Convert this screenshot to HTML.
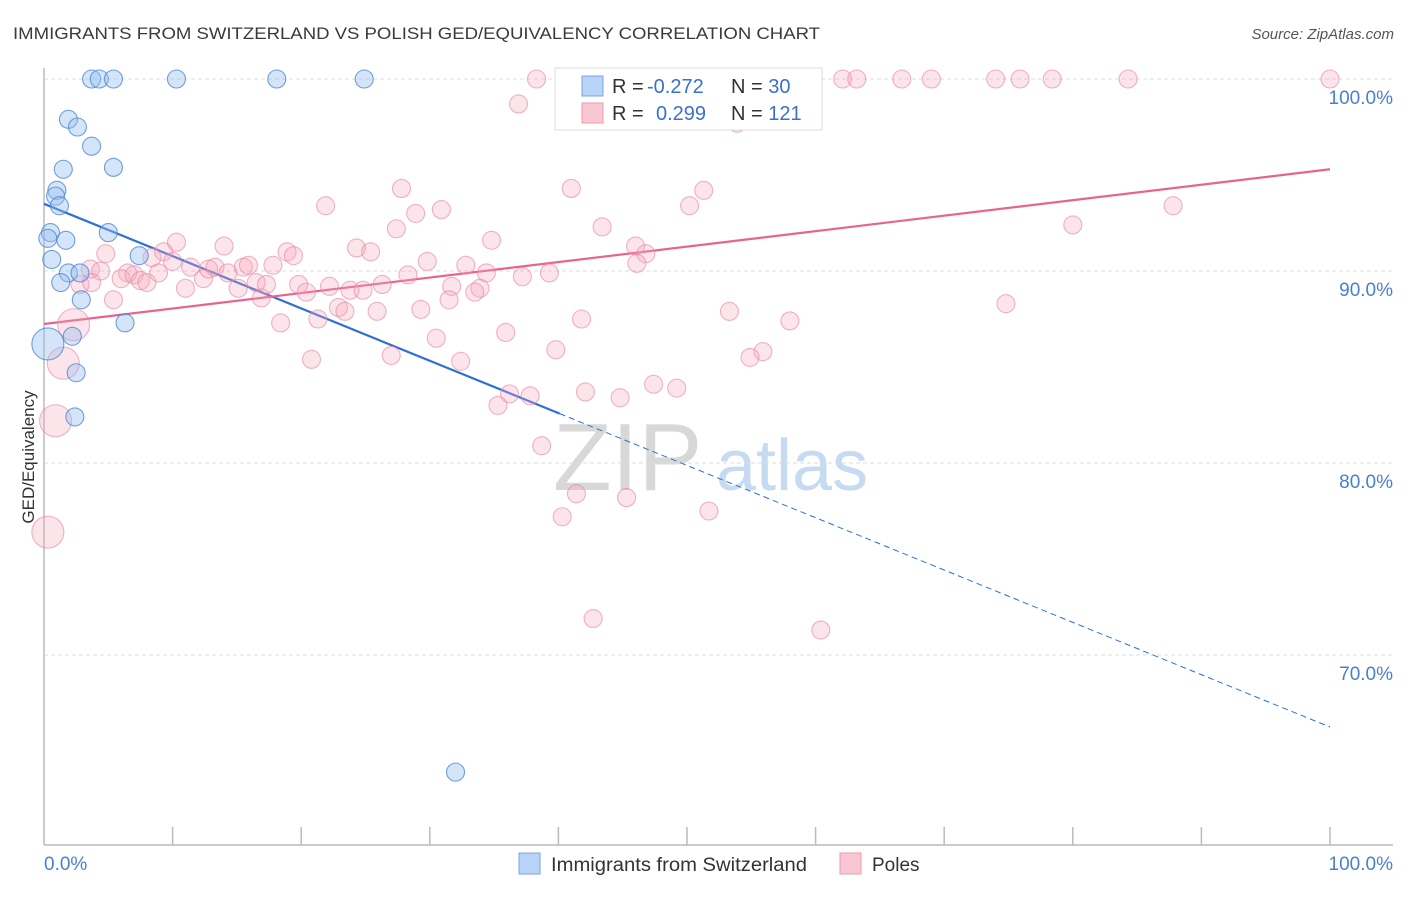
<!DOCTYPE html>
<html><head><meta charset="utf-8"><style>
body{margin:0;background:#fff;}
svg text{font-family:"Liberation Sans",sans-serif;}
</style></head><body>
<svg id="chart" width="1406" height="892" xmlns="http://www.w3.org/2000/svg">
<text x="13" y="39" font-size="17" fill="#3a3a3a" textLength="807" lengthAdjust="spacingAndGlyphs">IMMIGRANTS FROM SWITZERLAND VS POLISH GED/EQUIVALENCY CORRELATION CHART</text>
<text x="1394" y="39" font-size="15" fill="#555" font-style="italic" text-anchor="end">Source: ZipAtlas.com</text>
<g>
<text x="553" y="490" font-size="96" fill="#d8d8d8" font-family="Liberation Serif,serif">ZIP</text>
<text x="716" y="490" font-size="72" fill="#c6dbf2">atlas</text>
</g>
<g id="grid"></g>
<g id="axes"></g>
<g id="lines"></g>
<g id="pts"></g>
<text transform="translate(34,457) rotate(-90)" font-size="17" fill="#333" text-anchor="middle">GED/Equivalency</text>
<g>
<rect x="555" y="68" width="267" height="62" fill="#fff" stroke="#ddd"/>
<rect x="582" y="76" width="21" height="20" fill="#b8d3f5" stroke="#7aa6e0"/>
<rect x="582" y="103" width="21" height="20" fill="#f9c6d4" stroke="#ee9ab2"/>
<text x="612" y="93" font-size="20" fill="#333">R = <tspan fill="#3b6fd0" x="647">-0.272</tspan></text>
<text x="731" y="93" font-size="20" fill="#333">N = <tspan fill="#3b6fd0">30</tspan></text>
<text x="612" y="120" font-size="20" fill="#333">R = <tspan fill="#3b6fd0" x="656">0.299</tspan></text>
<text x="731" y="120" font-size="20" fill="#333">N = <tspan fill="#3b6fd0">121</tspan></text>
</g>
<g>
<rect x="519" y="853" width="21" height="21" fill="#b8d3f5" stroke="#7aa6e0"/>
<text x="551" y="871" font-size="19" fill="#333" textLength="256" lengthAdjust="spacingAndGlyphs">Immigrants from Switzerland</text>
<rect x="840" y="853" width="21" height="21" fill="#f9c6d4" stroke="#ee9ab2"/>
<text x="872" y="871" font-size="19" fill="#333">Poles</text>
</g>
</svg>
<script>
const yTicks=[100,90,80,70];
const yTickLabels=["100.0%","90.0%","80.0%","70.0%"];
const xTickLabels=["0.0%","100.0%"];
const blueX=[3.7,4.3,5.4,10.3,18.1,24.9,1.9,2.6,3.7,1.5,5.4,1.0,0.9,1.2,0.5,0.3,1.7,5.0,0.6,7.4,1.9,2.8,1.3,2.9,6.3,2.2,0.3,2.5,2.4,32.0];
const blueY=[100,100,100,100,100,100,97.9,97.5,96.5,95.3,95.4,94.2,93.9,93.4,92.0,91.7,91.6,92.0,90.6,90.8,89.9,89.9,89.4,88.5,87.3,86.6,86.2,84.7,82.4,63.9];
const blueR=[9,9,9,9,9,9,9,9,9,9,9,9,9,9,9,9,9,9,9,9,9,9,9,9,9,9,16,9,9,9];
const pinkX=[38.3,47.7,48.5,49.9,55.7,56.8,62.1,63.2,66.7,74.0,75.9,78.4,84.3,100,36.9,53.9,27.8,41.0,51.3,50.2,87.8,21.9,28.9,30.9,43.4,80.0,27.4,34.8,46.0,46.8,46.1,24.3,25.4,29.8,32.8,34.4,37.2,39.3,28.3,26.3,31.7,33.9,33.5,31.5,29.3,25.9,74.8,53.3,41.8,58.0,35.9,30.5,39.8,55.9,54.9,27.0,32.4,20.8,47.4,49.2,42.1,44.8,36.2,37.8,35.3,38.7,41.4,45.3,51.7,40.3,42.7,60.4,4.8,3.6,4.4,2.8,3.7,5.4,6.5,6.0,7.0,7.5,8.0,8.4,8.9,9.3,10.0,10.3,11.0,11.4,12.4,12.8,13.3,14.0,14.3,15.1,15.5,15.9,16.5,16.9,17.3,17.8,18.4,18.9,19.4,19.8,20.4,21.3,22.2,22.9,23.4,23.8,24.8,2.3,1.5,0.9,0.3,41.3,57.2,45.0,69.0];
const pinkY=[100,100,100,100,100,100,100,100,100,100,100,100,100,100,98.7,97.7,94.3,94.3,94.2,93.4,93.4,93.4,93.0,93.2,92.3,92.4,92.2,91.6,91.3,90.9,90.4,91.2,91.0,90.5,90.3,89.9,89.7,89.9,89.8,89.3,89.2,89.1,88.9,88.5,88.0,87.9,88.3,87.9,87.5,87.4,86.8,86.5,85.9,85.8,85.5,85.6,85.3,85.4,84.1,83.9,83.7,83.4,83.6,83.5,83.0,80.9,78.4,78.2,77.5,77.2,71.9,71.3,90.9,90.1,90.0,89.3,89.4,88.5,89.9,89.6,89.8,89.5,89.4,90.7,89.9,91.0,90.5,91.5,89.1,90.2,89.6,90.1,90.2,91.3,89.9,89.1,90.2,90.3,89.4,88.6,89.3,90.3,87.3,91.0,90.8,89.3,88.9,87.5,89.2,88.1,87.9,89.0,89.0,87.2,85.2,82.2,76.4,100,100,100,100];
const pinkR=pinkX.map((v,i)=>i>=113&&i<117?16:9);
const blueLine=[93.5,66.25]; // y at x=0 and x=100
const pinkLine=[87.24,95.3];
const blueSolidEnd=40.1;

const X0=44,X1=1330,Y100=79,PPU=19.2;
const sx=v=>X0+(X1-X0)*v/100;
const sy=v=>Y100+(100-v)*PPU;
const NS="http://www.w3.org/2000/svg";
function mk(tag,attrs,parent){const e=document.createElementNS(NS,tag);for(const k in attrs)e.setAttribute(k,attrs[k]);parent.appendChild(e);return e;}
const grid=document.getElementById('grid'),axes=document.getElementById('axes'),lines=document.getElementById('lines'),pts=document.getElementById('pts');
yTicks.forEach((t,i)=>{
 const g=mk('line',{x1:X0,x2:1393,y1:sy(t),y2:sy(t),stroke:'#ddd','stroke-dasharray':'4,3'},grid);
 
 
 const l=mk('text',{x:1393,y:sy(t)+25,'font-size':19,fill:'#4a7fd0','text-anchor':'end'},grid);
 l.textContent=yTickLabels[i];
 
 
});
const ya=mk('line',{x1:X0,x2:X0,y1:68,y2:845,stroke:'#bbb','stroke-width':1.5},axes);


const xa=mk('line',{x1:X0,x2:1393,y1:845,y2:845,stroke:'#bbb','stroke-width':1.5},axes);


for(let i=1;i<=10;i++){const t=mk('line',{x1:sx(i*10),x2:sx(i*10),y1:827,y2:845,stroke:'#bbb','stroke-width':1.5},axes);
 
 }
[[0,'start',44],[100,'end',1393]].forEach((p,i)=>{const t=mk('text',{x:p[2],y:870,'font-size':19,fill:'#4a7fd0','text-anchor':p[1]},axes);t.textContent=xTickLabels[i];
 
 });
function draw(xs,ys,rs,fill,stroke,name){xs.forEach((x,i)=>{const c=mk('circle',{cx:sx(x),cy:sy(ys[i]),r:rs[i],fill:fill,stroke:stroke,'stroke-width':1.1},pts);
 
 });}
draw(pinkX,pinkY,pinkR,'rgba(245,165,190,0.3)','rgba(232,130,160,0.6)','poles-point');
draw(blueX,blueY,blueR,'rgba(150,190,240,0.4)','rgba(70,130,210,0.75)','switzerland-point');
const by=x=>blueLine[0]+(blueLine[1]-blueLine[0])*x/100;
const py=x=>pinkLine[0]+(pinkLine[1]-pinkLine[0])*x/100;
const bl=mk('line',{x1:sx(0),y1:sy(by(0)),x2:sx(blueSolidEnd),y2:sy(by(blueSolidEnd)),stroke:'#2f6fd6','stroke-width':2.2},lines);


const bd=mk('line',{x1:sx(blueSolidEnd),y1:sy(by(blueSolidEnd)),x2:sx(100),y2:sy(by(100)),stroke:'#2f6fd6','stroke-width':1,'stroke-dasharray':'6,4'},lines);


const pl=mk('line',{x1:sx(0),y1:sy(py(0)),x2:sx(100),y2:sy(py(100)),stroke:'#e8648e','stroke-width':2.2},lines);


</script>
</body></html>
